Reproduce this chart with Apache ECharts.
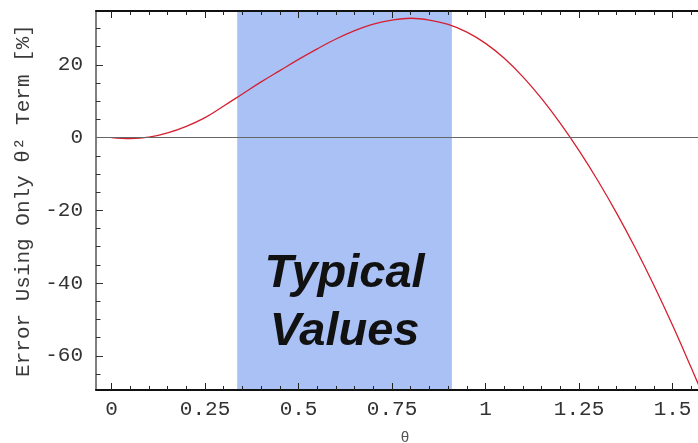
<!DOCTYPE html>
<html>
<head>
<meta charset="utf-8">
<script src="https://cdn.jsdelivr.net/npm/echarts@6/dist/echarts.min.js"></script>
<style>
  html, body { margin: 0; padding: 0; background: #fff; }
  #chart { width: 698px; height: 443px; }
</style>
</head>
<body>
<div id="chart"></div>
<script>
// Angle (rad) and relative error (%) when only the θ² term is kept
const theta = [0, 0.05, 0.10, 0.15, 0.20, 0.25, 0.30, 0.35, 0.40, 0.45, 0.50,
               0.55, 0.60, 0.65, 0.70, 0.75, 0.80, 0.85, 0.90, 0.95, 1.00,
               1.05, 1.10, 1.15, 1.20, 1.25, 1.30, 1.35, 1.40, 1.45, 1.50,
               1.55, 1.57];
const errorPct = [0, -0.3, 0.1, 1.3, 3.1, 5.5, 8.7, 12.0, 15.3, 18.4, 21.5,
                  24.4, 27.1, 29.4, 31.2, 32.3, 32.8, 32.3, 31.1, 29.0, 25.9,
                  21.8, 16.7, 10.7, 3.9, -3.6, -11.8, -20.7, -30.3, -40.6, -51.6,
                  -63.3, -68.1];

// Range of "typical" angles
const typicalRange = [0.336, 0.91];
const typicalText = 'Typical\nValues';

// Axis ticks
const xMajorTicks = [0, 0.25, 0.5, 0.75, 1, 1.25, 1.5];
const xMinorTicks = [];
for (let i = 0; i <= 31; i++) xMinorTicks.push(+(i * 0.05).toFixed(2));
const yMajorTicks = [-60, -40, -20, 0, 20];
const yMinorTicks = [];
for (let v = -65; v <= 30; v += 5) yMinorTicks.push(v);

const X_MIN = -0.0415, X_MAX = 1.568;
const Y_MIN = -69.4, Y_MAX = 34.8;

const monoFont = '"Liberation Mono", "DejaVu Sans Mono", monospace';

function xAxisDef(pos, ticks, len, opts) {
  return Object.assign({
    type: 'value', position: pos, min: X_MIN, max: X_MAX, z: 3,
    axisLine: { show: false, onZero: false },
    axisTick: { show: true, inside: true, length: len, customValues: ticks,
                lineStyle: { color: '#222', width: 1 } },
    axisLabel: { show: false },
    splitLine: { show: false }
  }, opts || {});
}
function yAxisDef(ticks, len, opts) {
  return Object.assign({
    type: 'value', position: 'left', min: Y_MIN, max: Y_MAX, z: 3,
    axisLine: { show: false, onZero: false },
    axisTick: { show: true, inside: true, length: len, customValues: ticks,
                lineStyle: { color: '#333', width: 1 } },
    axisLabel: { show: false },
    splitLine: { show: false }
  }, opts || {});
}

const chart = echarts.init(document.getElementById('chart'), null, { renderer: 'canvas' });

chart.setOption({
  animation: false,
  backgroundColor: '#fff',
  grid: { left: 96, top: 11, right: 0, bottom: 53, containLabel: false, outerBoundsMode: 'none' },
  xAxis: [
    xAxisDef('bottom', xMajorTicks, 7, {
      axisLine: { show: true, onZero: false, lineStyle: { color: '#111', width: 2 } },
      axisLabel: {
        show: true, customValues: xMajorTicks, margin: 9,
        fontFamily: monoFont, fontSize: 21, color: '#333',
        formatter: v => String(+v.toFixed(2))
      },
      name: 'θ', nameLocation: 'middle', nameGap: 41,
      nameTextStyle: { fontFamily: monoFont, fontSize: 15, color: '#555', padding: [0, 0, 0, 16] }
    }),
    xAxisDef('bottom', xMinorTicks, 4),
    xAxisDef('top', xMajorTicks, 7, {
      axisLine: { show: true, onZero: false, lineStyle: { color: '#111', width: 2 } }
    }),
    xAxisDef('top', xMinorTicks, 4)
  ],
  yAxis: [
    yAxisDef(yMajorTicks, 7, {
      axisLine: { show: true, onZero: false, lineStyle: { color: '#555', width: 1.5 } },
      axisLabel: {
        show: true, customValues: yMajorTicks, margin: 13,
        fontFamily: monoFont, fontSize: 21, color: '#333'
      },
      name: 'Error Using Only θ² Term [%]', nameLocation: 'middle', nameGap: 59, nameRotate: 90,
      nameTextStyle: { fontFamily: monoFont, fontSize: 21, color: '#3a3a3a' }
    }),
    yAxisDef(yMinorTicks, 4.5)
  ],
  series: [
    {
      // shaded band of typical angles
      type: 'line', data: [], z: 1, silent: true,
      markArea: {
        silent: true,
        itemStyle: { color: '#aac1f6', opacity: 1 },
        label: {
          show: true, position: 'insideBottom', distance: 29,
          formatter: typicalText,
          fontFamily: '"Liberation Sans", Arial, sans-serif',
          fontStyle: 'italic', fontWeight: 'bold', fontSize: 47,
          lineHeight: 58, color: '#111', align: 'center'
        },
        data: [[{ xAxis: typicalRange[0] }, { xAxis: typicalRange[1] }]]
      }
    },
    {
      type: 'line', z: 4, silent: true,
      data: theta.map((t, i) => [t, errorPct[i]]),
      smooth: 0.4, showSymbol: false,
      lineStyle: { color: '#d42030', width: 1.3 },
      markLine: {
        silent: true, symbol: 'none', label: { show: false },
        lineStyle: { color: '#666', width: 1, type: 'solid' },
        data: [{ yAxis: 0 }]
      }
    }
  ]
});
</script>
</body>
</html>
